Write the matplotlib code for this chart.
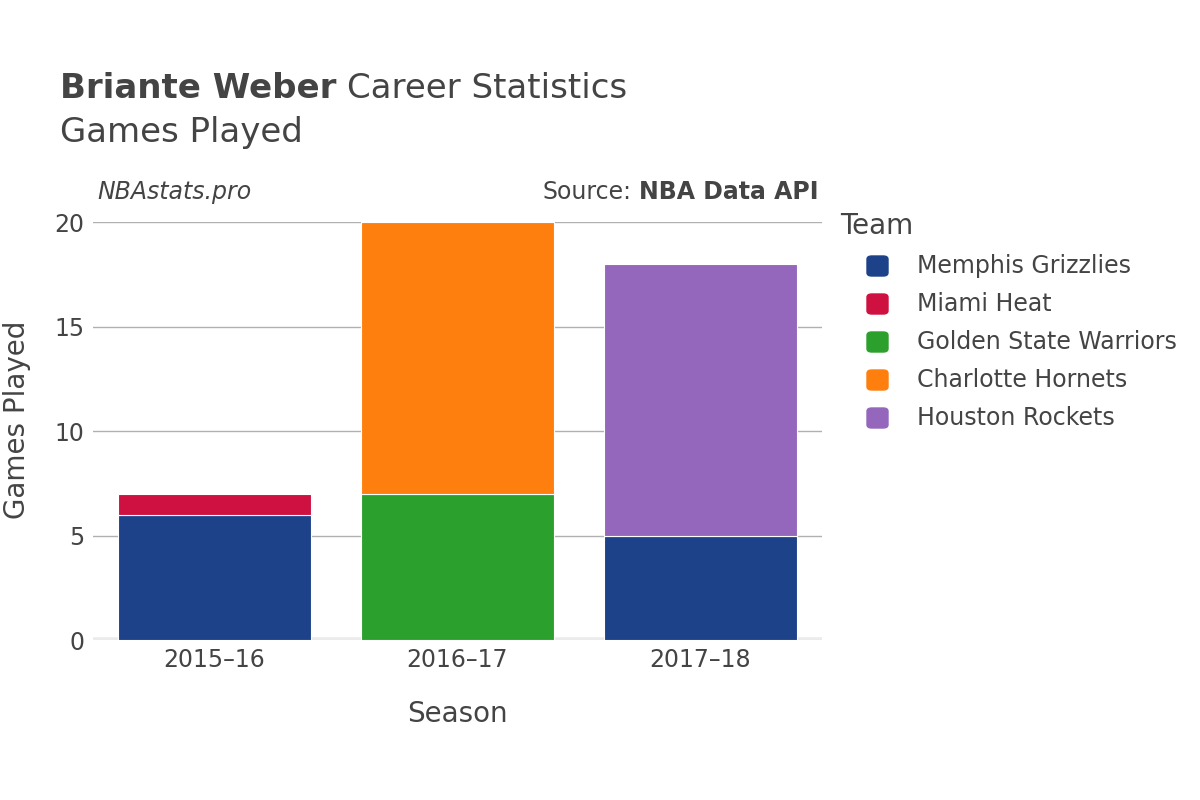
import numpy as np
import matplotlib.pyplot as plt
from matplotlib.patches import FancyBboxPatch

seasons = ["2015\u201316", "2016\u201317", "2017\u201318"]
teams = ["Memphis Grizzlies", "Miami Heat", "Golden State Warriors",
         "Charlotte Hornets", "Houston Rockets"]
team_colors = ["#1d428a", "#ce1141", "#2ca02c", "#ff7f0e", "#9467bd"]

# games per team per season, stacking order per season
stacks = [
    [("Memphis Grizzlies", 6), ("Miami Heat", 1)],
    [("Golden State Warriors", 7), ("Charlotte Hornets", 13)],
    [("Memphis Grizzlies", 5), ("Houston Rockets", 13)],
]

color_of = dict(zip(teams, team_colors))
txt = "#444444"

fig = plt.figure(figsize=(12, 8), dpi=100)
ax = fig.add_axes([0.0775, 0.2, 0.6075, 0.5225])

x = np.arange(len(seasons))
for i, stack in enumerate(stacks):
    bottom = 0
    for team, val in stack:
        ax.bar(x[i], val, bottom=bottom, width=0.795, color=color_of[team],
               edgecolor="white", linewidth=0.8, zorder=3)
        bottom += val

ax.set_xlim(-0.5, 2.5)
ax.set_ylim(0, 20)
ax.set_yticks([0, 5, 10, 15, 20])
ax.yaxis.grid(True, color="#b0b0b0", linewidth=1, zorder=0)
ax.axhline(0, color="#ebebeb", linewidth=4, zorder=2)
for s in ax.spines.values():
    s.set_visible(False)
ax.tick_params(axis="both", length=0, labelsize=17, colors=txt, pad=6)
ax.set_xticks(x)
ax.set_xticklabels(seasons)
ax.set_xlabel("Season", fontsize=20, color=txt, labelpad=20)
ax.set_ylabel("Games Played", fontsize=20, color=txt, va="center")
ax.yaxis.set_label_coords(-0.104, 0.526)

r = fig.canvas.get_renderer()

t1 = fig.text(0.05, 0.889, "Briante Weber", fontsize=24.5, fontweight="bold",
              color=txt, va="center")
w1 = t1.get_window_extent(r).width / 1200
fig.text(0.05 + w1 + 0.009, 0.889, "Career Statistics", fontsize=24.5,
         color=txt, va="center")
fig.text(0.05, 0.834, "Games Played", fontsize=24.5, color=txt, va="center")

fig.text(0.081, 0.76, "NBAstats.pro", fontsize=17, style="italic",
         color=txt, va="center")
t2 = fig.text(0.682, 0.76, "NBA Data API", fontsize=17, fontweight="bold",
              color=txt, va="center", ha="right")
w2 = t2.get_window_extent(r).width / 1200
fig.text(0.682 - w2 - 0.006, 0.76, "Source:", fontsize=17, color=txt,
         va="center", ha="right")

fig.text(0.7, 0.717, "Team", fontsize=20, color=txt, va="center")
for k, (team, col) in enumerate(zip(teams, team_colors)):
    yy = 1 - (266 + 38 * k) / 800
    fig.patches.append(FancyBboxPatch((0.7225, yy - 0.0125), 0.0175, 0.025,
                                      boxstyle="round,pad=0,rounding_size=0.004",
                                      transform=fig.transFigure, color=col))
    fig.text(0.764, yy, team, fontsize=17, color=txt, va="center")

fig.savefig("out.png", dpi=100, facecolor="white")
